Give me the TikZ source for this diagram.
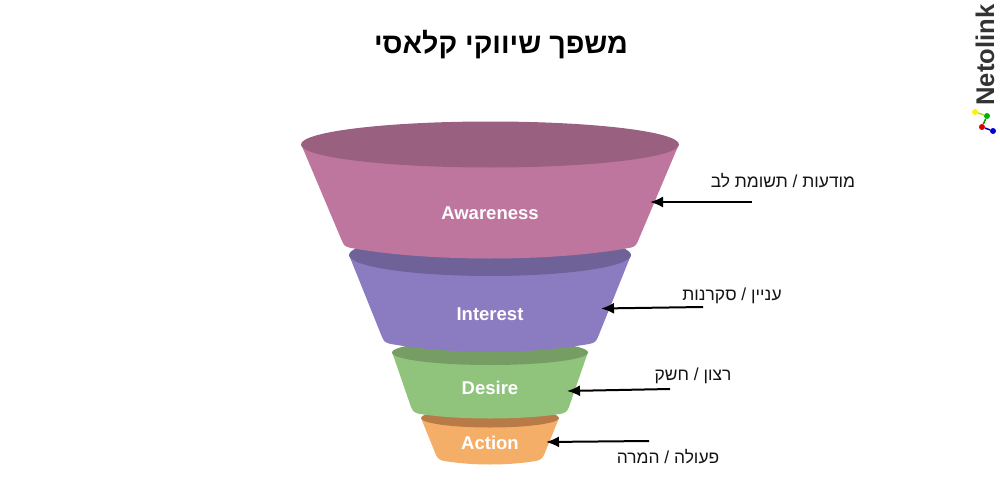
\documentclass[tikz,border=0pt]{standalone}
\usepackage{fontspec}
\setmainfont{Liberation Sans}
\newfontfamily\hebfont[Script=Hebrew]{Liberation Sans}
\TeXXeTstate=1
\usepackage{xcolor}
\usetikzlibrary{arrows.meta,positioning,calc}
\definecolor{awarebody}{HTML}{BE769F}
\definecolor{awaretop}{HTML}{9A6080}
\definecolor{interbody}{HTML}{8B7BC1}
\definecolor{intertop}{HTML}{6F6299}
\definecolor{desirebody}{HTML}{90C47C}
\definecolor{desiretop}{HTML}{769E64}
\definecolor{actionbody}{HTML}{F5AE67}
\definecolor{actiontop}{HTML}{B87B47}
\tikzset{
  stagetext/.style={font=\fontsize{18.5}{20}\selectfont\bfseries, text=white, inner sep=0pt},
  sidetext/.style={font=\fontsize{17.4}{20}\selectfont\hebfont, text=black!92, inner sep=0pt},
  pointer/.style={-{Latex[length=13pt,width=11pt]}, line width=2pt, black},
  logodot/.style={circle, fill=#1, inner sep=0pt, minimum size=6pt},
}

\begin{document}
\begin{tikzpicture}[x=1pt, y=-1pt]
            \useasboundingbox (0,0) rectangle (1000,500);

            % Title
            \node[font=\fontsize{28.6}{32}\selectfont\bfseries\hebfont, inner sep=0pt] (title) at (501,45) {\beginR משפך שיווקי קלאסי\endR};

            % Action
            \fill[actionbody] (421,418) -- (436,455) .. controls (438,459) and (440,460) .. (444,461) .. controls (460,463.5) and (475,464.5) .. (490,464.5) .. controls (505,464.5) and (520,463.5) .. (536,461) .. controls (540,460) and (542,459) .. (544,455) -- (559,418) -- cycle;
            \fill[actiontop] (490,418) ellipse [x radius=69, y radius=9.5];
            \node[stagetext] (action) at (490,443) {Action};

            % Desire
            \fill[desirebody] (392,352) -- (411,407) .. controls (413,412) and (415,413) .. (420,414) .. controls (440,417) and (465,418.5) .. (490,418.5) .. controls (515,418.5) and (540,417) .. (560,414) .. controls (565,413) and (567,412) .. (569,407) -- (588,352) -- cycle;
            \fill[desiretop] (490,352.5) ellipse [x radius=98, y radius=12.5];
            \node[stagetext] (desire) at (490,388) {Desire};

            % Interest
            \fill[interbody] (349,255) -- (382,337) .. controls (384,342) and (386,343) .. (391,344) .. controls (420,349) and (455,352) .. (490,352) .. controls (525,352) and (560,349) .. (589,344) .. controls (594,343) and (596,342) .. (598,337) -- (631,255) -- cycle;
            \fill[intertop] (490,255) ellipse [x radius=141, y radius=21];
            \node[stagetext] (interest) at (490,314.5) {Interest};

            % Awareness
            \fill[awarebody] (301,144) -- (342,241) .. controls (344,246) and (346,247) .. (351,248) .. controls (390,255) and (440,258.5) .. (490,258.5) .. controls (540,258.5) and (590,255) .. (629,248) .. controls (634,247) and (636,246) .. (638,241) -- (679,144) -- cycle;
            \fill[awaretop] (490,144.5) ellipse [x radius=189, y radius=23];
            \node[stagetext] (awareness) at (490,213.5) {Awareness};

            % Side labels
            \node[sidetext] (lblaware) at (783,181) {\beginR מודעות / תשומת לב\endR};
            \node[sidetext] (lblinter) at (732,295.5) {\beginR עניין / סקרנות\endR};
            \node[sidetext] (lbldesire) at (693,375.5) {\beginR רצון / חשק\endR};
            \node[sidetext] (lblaction) at (668,456.5) {\beginR פעולה / המרה\endR};

            % Arrows
            \coordinate (awaretail) at (752,202);
            \coordinate (awarehead) at (650,202);
            \coordinate (intertail) at (703,307);
            \coordinate (interhead) at (601,308.5);
            \coordinate (desiretail) at (670,389);
            \coordinate (desirehead) at (567,391);
            \coordinate (actiontail) at (649,441);
            \coordinate (actionhead) at (546,442);
            \draw[pointer] (awaretail) -- (awarehead);
            \draw[pointer] (intertail) -- (interhead);
            \draw[pointer] (desiretail) -- (desirehead);
            \draw[pointer] (actiontail) -- (actionhead);

            % Logo
            \node[rotate=90, font=\fontsize{25.6}{26}\selectfont\bfseries, text=black!80, inner sep=0pt] (brand) at (985,55) {Netolink};
            \node[logodot=yellow] (ldot1) at (975,112) {};
            \node[logodot=green!70!black] (ldot2) at (987,116) {};
            \node[logodot=red!85!black] (ldot3) at (982,127) {};
            \node[logodot=blue!85!black] (ldot4) at (993,131) {};
            \draw[line width=1.5pt, yellow!70!green] (ldot1) -- (ldot2);
            \draw[line width=1.5pt, green!60!black] (ldot2) -- (ldot3);
            \draw[line width=1.5pt, blue!70!black] (ldot3) -- (ldot4);
        \end{tikzpicture}
\end{document}
